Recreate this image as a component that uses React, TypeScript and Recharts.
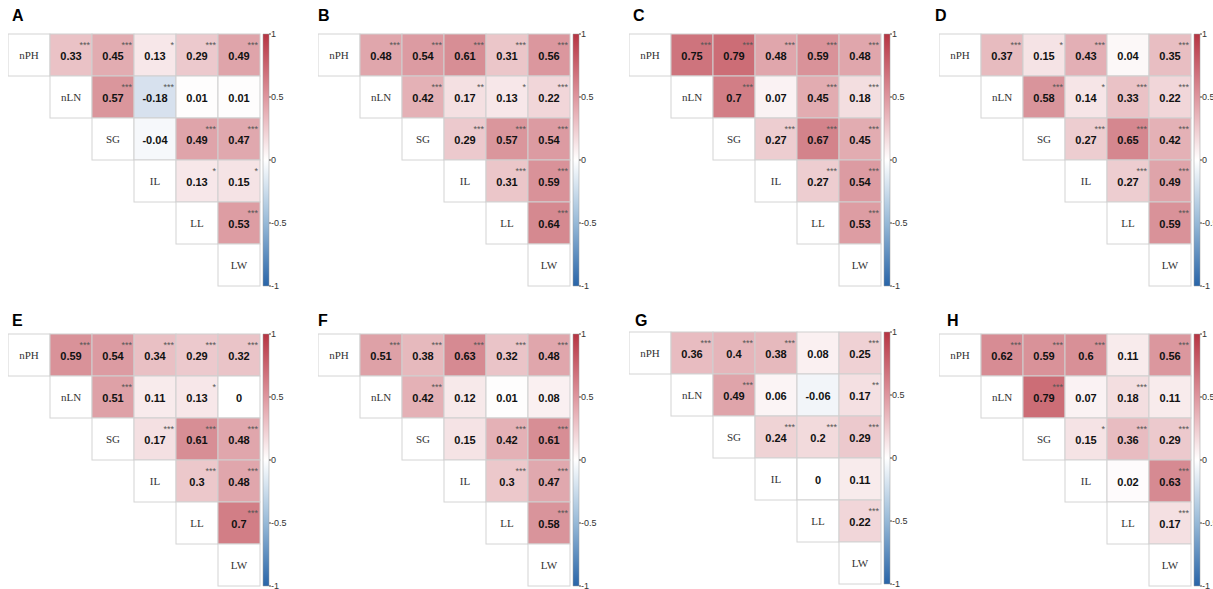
import React from 'react'
import { ScatterChart, Scatter, XAxis, YAxis, ReferenceArea } from 'recharts'

// trait names, same order on both axes
const traits = ['nPH', 'nLN', 'SG', 'IL', 'LL', 'LW']

// upper triangle, row by row (nPH-nLN, nPH-SG, ... LL-LW)
const rA = [0.33, 0.45, 0.13, 0.29, 0.49, 0.57, -0.18, 0.01, 0.01, -0.04, 0.49, 0.47, 0.13, 0.15, 0.53]
const sA = ['***', '***', '*', '***', '***', '***', '***', '', '', '', '***', '***', '*', '*', '***']
const rB = [0.48, 0.54, 0.61, 0.31, 0.56, 0.42, 0.17, 0.13, 0.22, 0.29, 0.57, 0.54, 0.31, 0.59, 0.64]
const sB = ['***', '***', '***', '***', '***', '***', '**', '*', '***', '***', '***', '***', '***', '***', '***']
const rC = [0.75, 0.79, 0.48, 0.59, 0.48, 0.7, 0.07, 0.45, 0.18, 0.27, 0.67, 0.45, 0.27, 0.54, 0.53]
const sC = ['***', '***', '***', '***', '***', '***', '', '***', '***', '***', '***', '***', '***', '***', '***']
const rD = [0.37, 0.15, 0.43, 0.04, 0.35, 0.58, 0.14, 0.33, 0.22, 0.27, 0.65, 0.42, 0.27, 0.49, 0.59]
const sD = ['***', '*', '***', '', '***', '***', '*', '***', '***', '***', '***', '***', '***', '***', '***']
const rE = [0.59, 0.54, 0.34, 0.29, 0.32, 0.51, 0.11, 0.13, 0, 0.17, 0.61, 0.48, 0.3, 0.48, 0.7]
const sE = ['***', '***', '***', '***', '***', '***', '', '*', '', '***', '***', '***', '***', '***', '***']
const rF = [0.51, 0.38, 0.63, 0.32, 0.48, 0.42, 0.12, 0.01, 0.08, 0.15, 0.42, 0.61, 0.3, 0.47, 0.58]
const sF = ['***', '***', '***', '***', '***', '***', '', '', '', '', '***', '***', '***', '***', '***']
const rG = [0.36, 0.4, 0.38, 0.08, 0.25, 0.49, 0.06, -0.06, 0.17, 0.24, 0.2, 0.29, 0, 0.11, 0.22]
const sG = ['***', '***', '***', '', '***', '***', '', '', '**', '***', '***', '***', '', '', '***']
const rH = [0.62, 0.59, 0.6, 0.11, 0.56, 0.79, 0.07, 0.18, 0.11, 0.15, 0.36, 0.29, 0.02, 0.63, 0.17]
const sH = ['***', '***', '***', '', '***', '***', '', '***', '', '*', '***', '***', '', '***', '***']

const colorbarTicks = [-1, -0.5, 0, 0.5, 1]

const CELL = 42
const N = traits.length
const PLOT_W = 261 // cells + gap + colour bar
const XMAX = PLOT_W / CELL
const CB_X1 = 255 / CELL

const panels = [
  { id: 'A', r: rA, s: sA, left: 8, top: 34, lx: 12, ly: 22 },
  { id: 'B', r: rB, s: sB, left: 318, top: 34, lx: 318, ly: 22 },
  { id: 'C', r: rC, s: sC, left: 629, top: 34, lx: 633, ly: 22 },
  { id: 'D', r: rD, s: sD, left: 939, top: 34, lx: 935, ly: 22 },
  { id: 'E', r: rE, s: sE, left: 8, top: 334, lx: 12, ly: 327 },
  { id: 'F', r: rF, s: sF, left: 318, top: 334, lx: 318, ly: 327 },
  { id: 'G', r: rG, s: sG, left: 629, top: 332, lx: 635, ly: 327 },
  { id: 'H', r: rH, s: sH, left: 939, top: 334, lx: 947, ly: 327 },
]

const RED = [190, 70, 82]
const BLUE = [30, 90, 160]

const cellColor = (v: number) => {
  const end = v >= 0 ? RED : BLUE
  const t = Math.min(1, Math.abs(v))
  const c = end.map((e) => Math.round(255 + (e - 255) * t))
  return `rgb(${c[0]},${c[1]},${c[2]})`
}

const buildCells = (r: number[], s: string[]) => {
  const out: any[] = []
  let k = 0
  for (let i = 0; i < N; i++) {
    out.push({ x: i + 0.5, y: i + 0.5, diag: true, label: traits[i] })
    for (let j = i + 1; j < N; j++) {
      out.push({ x: j + 0.5, y: i + 0.5, diag: false, value: r[k], sig: s[k] })
      k++
    }
  }
  return out
}

// invisible points that tie the colour-bar axis to the chart
const cbData = colorbarTicks.map((t) => ({ x: XMAX, y: t }))

const CellShape = (props: any) => {
  const { cx, cy, payload } = props
  const h = CELL / 2
  if (payload.diag) {
    return (
      <g>
        <rect x={cx - h} y={cy - h} width={CELL} height={CELL} fill="#fff" stroke="#d4d4d4" strokeWidth={1} />
        <text x={cx} y={cy + 4} textAnchor="middle" fontFamily="'Liberation Serif', 'Times New Roman', serif" fontSize={11} fill="#333">
          {payload.label}
        </text>
      </g>
    )
  }
  return (
    <g>
      <rect x={cx - h} y={cy - h} width={CELL} height={CELL} fill={cellColor(payload.value)} stroke="#cfcfcf" strokeWidth={1} />
      <text x={cx} y={cy + 4.5} textAnchor="middle" fontFamily="'Liberation Sans', Arial, sans-serif" fontWeight="bold" fontSize={11} fill="#111">
        {String(payload.value)}
      </text>
      {payload.sig ? (
        <text x={cx + 19} y={cy - 7.5} textAnchor="end" fontFamily="'Liberation Sans', Arial, sans-serif" fontSize={9} fill="#555">
          {payload.sig}
        </text>
      ) : null}
    </g>
  )
}

const Empty = () => <g />

const Panel = ({ p }: { p: typeof panels[number] }) => {
  const data = buildCells(p.r, p.s)
  const gid = `cb-${p.id}`
  return (
    <div style={{ position: 'absolute', left: p.left, top: p.top - 6 }}>
      <ScatterChart width={PLOT_W + 30} height={CELL * N + 12} margin={{ top: 6, right: 0, bottom: 6, left: 0 }}>
        <defs>
          <linearGradient id={gid} x1="0" y1="0" x2="0" y2="1">
            <stop offset="0%" stopColor="rgb(182,52,66)" />
            <stop offset="25%" stopColor="rgb(222,150,158)" />
            <stop offset="50%" stopColor="#ffffff" />
            <stop offset="75%" stopColor="rgb(150,185,215)" />
            <stop offset="100%" stopColor="rgb(40,100,168)" />
          </linearGradient>
        </defs>
        <XAxis type="number" dataKey="x" domain={[0, XMAX]} allowDataOverflow hide />
        <YAxis yAxisId="cell" type="number" dataKey="y" domain={[0, N]} reversed hide />
        <YAxis
          yAxisId="cb"
          orientation="right"
          type="number"
          dataKey="y"
          domain={[-1, 1]}
          ticks={colorbarTicks}
          width={30}
          axisLine={false}
          tickSize={2}
          tickMargin={0}
          tickLine={{ stroke: '#444' }}
          tick={{ fontSize: 9, fill: '#333', fontFamily: "'Liberation Sans', Arial, sans-serif" }}
          tickFormatter={(v: number) => String(v)}
        />
        <ReferenceArea yAxisId="cb" x1={CB_X1} x2={XMAX} y1={-1} y2={1} fill={`url(#${gid})`} fillOpacity={1} stroke="#999" strokeWidth={0.5} ifOverflow="visible" />
        <Scatter yAxisId="cell" data={data} shape={CellShape} isAnimationActive={false} />
        <Scatter yAxisId="cb" data={cbData} shape={Empty} isAnimationActive={false} />
      </ScatterChart>
    </div>
  )
}

export default function App() {
  return (
    <div style={{ position: 'absolute', left: 0, top: 0, width: 1213, height: 589, background: '#fff', overflow: 'hidden' }}>
      {panels.map((p) => (
        <React.Fragment key={p.id}>
          <div
            style={{
              position: 'absolute',
              left: p.lx,
              top: p.ly - 14,
              fontFamily: "'Liberation Sans', Arial, sans-serif",
              fontWeight: 'bold',
              fontSize: 16,
              lineHeight: '16px',
              color: '#000',
            }}
          >
            {p.id}
          </div>
          <Panel p={p} />
        </React.Fragment>
      ))}
    </div>
  )
}
